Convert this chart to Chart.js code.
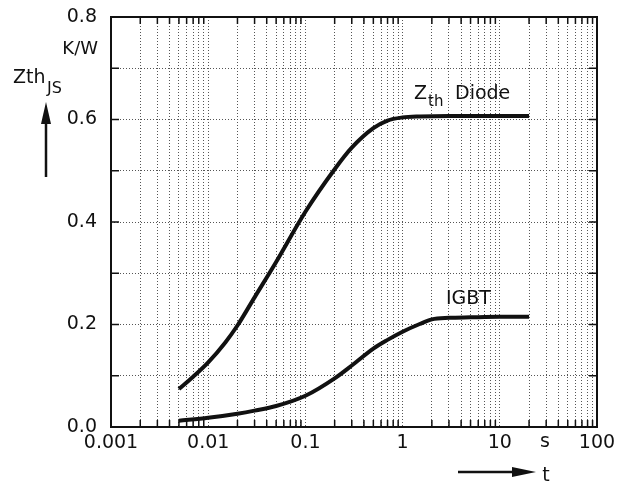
<!DOCTYPE html>
<html>
  <head>
    <meta charset="UTF-8"/>
    <title>Zth JS</title>
    <script src="https://cdn.jsdelivr.net/npm/chart.js@4.4.0/dist/chart.umd.min.js"></script>
    <style>
     html, body { margin: 0; padding: 0; background: #fff; }
    </style>
  </head>
  <body>
    <canvas id="chart-zth" width="633" height="483"></canvas>

    <script>
     // values
     var diodeT = [0.005, 0.007, 0.01, 0.015, 0.02, 0.03, 0.05, 0.1, 0.2, 0.3, 0.5, 0.7, 1, 1.5, 3, 10, 20];
     var diodeZ = [0.074, 0.098, 0.126, 0.165, 0.198, 0.253, 0.322, 0.42, 0.503, 0.545, 0.583, 0.598, 0.604, 0.606, 0.607, 0.607, 0.607];
     var igbtT = [0.005, 0.01, 0.02, 0.03, 0.05, 0.1, 0.2, 0.3, 0.5, 0.7, 1, 1.5, 2, 3, 5, 10, 20];
     var igbtZ = [0.012, 0.018, 0.026, 0.032, 0.041, 0.061, 0.095, 0.12, 0.153, 0.17, 0.186, 0.201, 0.21, 0.213, 0.214, 0.215, 0.215];

     var xDecades = [0.001, 0.01, 0.1, 1, 10, 100];
     var xDecadeLabels = ["0.001", "0.01", "0.1", "1", "10", "100"];
     var yTicks = [0, 0.1, 0.2, 0.3, 0.4, 0.5, 0.6, 0.7, 0.8];
     var yTickLabels = ["0.0", "", "0.2", "", "0.4", "", "0.6", "", "0.8"];

     var FONT = "DejaVu Sans";
     var INK = "#111";

     function pairs(xs, ys){
         return xs.map((x, i) => ({x: x, y: ys[i]}));
     }

     // every 1..9 step of each decade, for the dotted grid
     var xGrid = [];
     xDecades.forEach(function(d, i){
         if (i == xDecades.length - 1) { xGrid.push(d); return; }
         for (var k = 1; k < 10; k++) xGrid.push(+(d * k).toPrecision(6));
     });

     function isDecade(v){
         var l = Math.log10(v);
         return Math.abs(l - Math.round(l)) < 1e-9;
     }

     function text(ctx, s, x, y, size, align){
         ctx.font = size + "px '" + FONT + "'";
         ctx.textAlign = align || "left";
         ctx.textBaseline = "alphabetic";
         ctx.fillText(s, x, y);
     }

     var frame = {
         id: "frame",
         afterDraw: function(chart){
             var ctx = chart.ctx, a = chart.chartArea;
             var xs = chart.scales.x, ys = chart.scales.y;
             ctx.save();
             ctx.strokeStyle = INK;
             ctx.fillStyle = INK;

             // inner tick marks
             ctx.lineWidth = 1.5;
             ctx.beginPath();
             xGrid.forEach(function(v){
                 var px = xs.getPixelForValue(v);
                 var len = isDecade(v) ? 0 : 7;
                 ctx.moveTo(px, a.bottom); ctx.lineTo(px, a.bottom - len);
                 ctx.moveTo(px, a.top); ctx.lineTo(px, a.top + len);
             });
             yTicks.forEach(function(v){
                 var py = ys.getPixelForValue(v);
                 ctx.moveTo(a.left, py); ctx.lineTo(a.left + 8, py);
                 ctx.moveTo(a.right, py); ctx.lineTo(a.right - 8, py);
             });
             ctx.stroke();

             // box
             ctx.lineWidth = 2;
             ctx.strokeRect(a.left, a.top, a.right - a.left, a.bottom - a.top);

             // curve labels
             text(ctx, "Z", 414, 99, 19);
             text(ctx, "th", 428, 106, 15);
             text(ctx, "Diode", 455, 99, 19);
             text(ctx, "IGBT", 446, 304, 19);

             // y axis title
             text(ctx, "K/W", 98, 54, 18, "right");
             text(ctx, "Zth", 13, 83, 19);
             text(ctx, "JS", 47, 93, 16);
             ctx.lineWidth = 2.5;
             ctx.beginPath();
             ctx.moveTo(46, 177); ctx.lineTo(46, 118);
             ctx.stroke();
             ctx.beginPath();
             ctx.moveTo(46, 102); ctx.lineTo(41, 124); ctx.lineTo(51, 124);
             ctx.closePath(); ctx.fill();

             // x axis title
             text(ctx, "s", 545, 447, 19, "center");
             ctx.beginPath();
             ctx.moveTo(458, 472); ctx.lineTo(518, 472);
             ctx.stroke();
             ctx.beginPath();
             ctx.moveTo(536, 472); ctx.lineTo(512, 467); ctx.lineTo(512, 477);
             ctx.closePath(); ctx.fill();
             text(ctx, "t", 546, 481, 19, "center");

             ctx.restore();
         }
     };

     var line = {
         borderColor: INK,
         borderWidth: 4,
         pointRadius: 0,
         fill: false,
         cubicInterpolationMode: "monotone",
         borderCapStyle: "butt"
     };

     var chart = new Chart("chart-zth", {
         type: "line",
         data: {
             datasets: [
                 Object.assign({label: "Zth Diode", data: pairs(diodeT, diodeZ)}, line),
                 Object.assign({label: "IGBT", data: pairs(igbtT, igbtZ)}, line)
             ]
         },
         plugins: [frame],
         options: {
             responsive: false,
             animation: false,
             devicePixelRatio: 1,
             layout: {padding: {left: 0, top: 17, right: 36, bottom: 0}},
             plugins: {legend: {display: false}, tooltip: {enabled: false}},
             scales: {
                 x: {
                     type: "logarithmic",
                     min: 0.001,
                     max: 100,
                     afterBuildTicks: function(scale){
                         scale.ticks = xGrid.map(v => ({value: v}));
                     },
                     afterFit: function(scale){
                         scale.height = 56;
                         scale.paddingLeft = 0;
                         scale.paddingRight = 0;
                     },
                     grid: {color: "#555", lineWidth: 1, drawTicks: false},
                     border: {display: false, dash: [1, 2]},
                     ticks: {
                         autoSkip: false,
                         maxRotation: 0,
                         padding: 5,
                         color: INK,
                         font: {family: FONT, size: 19},
                         callback: function(v){
                             var i = xDecades.findIndex(d => Math.abs(d - v) / d < 1e-6);
                             return i < 0 ? "" : xDecadeLabels[i];
                         }
                     }
                 },
                 y: {
                     min: 0,
                     max: 0.8,
                     afterBuildTicks: function(scale){
                         scale.ticks = yTicks.map(v => ({value: v}));
                     },
                     afterFit: function(scale){
                         scale.width = 111;
                         scale.paddingTop = 0;
                         scale.paddingBottom = 0;
                     },
                     grid: {color: "#555", lineWidth: 1, drawTicks: false},
                     border: {display: false, dash: [1, 2]},
                     ticks: {
                         autoSkip: false,
                         padding: 14,
                         color: INK,
                         font: {family: FONT, size: 19},
                         callback: function(v, i){ return yTickLabels[i]; }
                     }
                 }
             }
         }
     });
    </script>
  </body>
</html>
